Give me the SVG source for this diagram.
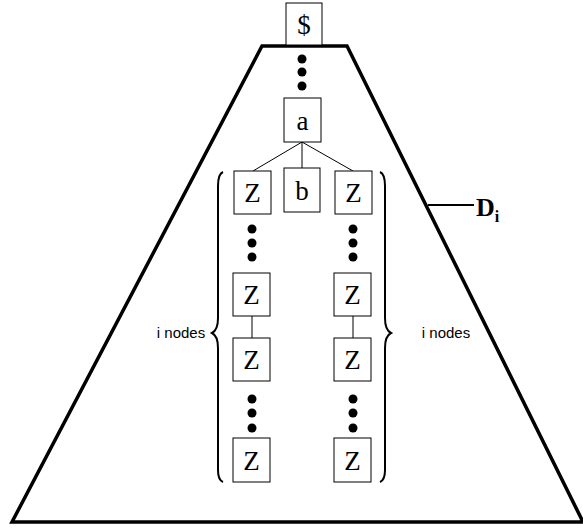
<svg xmlns="http://www.w3.org/2000/svg" width="583" height="528" viewBox="0 0 583 528">
<style>
.box{fill:#fff;stroke:#000;stroke-width:1}
.t{font-family:"Liberation Serif",serif;font-size:27px;text-anchor:middle;fill:#000}
.lbl{font-family:"Liberation Sans",sans-serif;font-size:15px;fill:#000}
.ln{stroke:#000;stroke-width:1;fill:none}
.br{stroke:#000;stroke-width:2;fill:none}
</style>
<rect width="583" height="528" fill="#fff"/>
<g id="trapezoid">
<polygon points="262,46 347,46 583,522 12,522" fill="none" stroke="#000" stroke-width="3.5" stroke-linejoin="miter"/>
</g>
<g id="connectors">
<line class="ln" x1="302" y1="142" x2="253" y2="171"/>
<line class="ln" x1="302" y1="142" x2="302" y2="168"/>
<line class="ln" x1="302" y1="142" x2="353" y2="171"/>
<line class="ln" x1="252" y1="316" x2="252" y2="338"/>
<line class="ln" x1="353" y1="316" x2="353" y2="338"/>
<line x1="428" y1="205" x2="474" y2="205" stroke="#000" stroke-width="2"/>
</g>
<g id="dots" fill="#000">
<circle cx="302" cy="59" r="4.5"/><circle cx="302" cy="72" r="4.5"/><circle cx="302" cy="86" r="4.5"/>
<circle cx="252" cy="229" r="4.5"/><circle cx="252" cy="243" r="4.5"/><circle cx="252" cy="257" r="4.5"/>
<circle cx="353" cy="229" r="4.5"/><circle cx="353" cy="243" r="4.5"/><circle cx="353" cy="257" r="4.5"/>
<circle cx="252" cy="399" r="4.5"/><circle cx="252" cy="413" r="4.5"/><circle cx="252" cy="428" r="4.5"/>
<circle cx="353" cy="399" r="4.5"/><circle cx="353" cy="413" r="4.5"/><circle cx="353" cy="428" r="4.5"/>
</g>
<g id="node-dollar"><rect class="box" x="286" y="3" width="36" height="42"/><text class="t" x="304" y="34">$</text></g>
<g id="node-a"><rect class="box" x="284" y="98" width="37" height="44"/><text class="t" x="302.5" y="130">a</text></g>
<g id="node-b"><rect class="box" x="284" y="168" width="36" height="44"/><text class="t" x="302" y="200">b</text></g>
<g id="node-z1"><rect class="box" x="234" y="171" width="37" height="43"/><text class="t" x="252.5" y="202">Z</text></g>
<g id="node-z2"><rect class="box" x="335" y="171" width="37" height="43"/><text class="t" x="353.5" y="202">Z</text></g>
<g id="node-z3"><rect class="box" x="233" y="273" width="37" height="43"/><text class="t" x="251.5" y="304">Z</text></g>
<g id="node-z4"><rect class="box" x="334" y="273" width="37" height="43"/><text class="t" x="352.5" y="304">Z</text></g>
<g id="node-z5"><rect class="box" x="233" y="338" width="37" height="43"/><text class="t" x="251.5" y="369">Z</text></g>
<g id="node-z6"><rect class="box" x="334" y="338" width="37" height="43"/><text class="t" x="352.5" y="369">Z</text></g>
<g id="node-z7"><rect class="box" x="233" y="438" width="37" height="44"/><text class="t" x="251.5" y="470">Z</text></g>
<g id="node-z8"><rect class="box" x="334" y="438" width="37" height="44"/><text class="t" x="352.5" y="470">Z</text></g>
<g id="brace-left">
<path class="br" d="M223,172 Q218,174 218,186 L218,318 Q218,330 212,333 Q218,336 218,348 L218,470 Q218,480 223,482"/>
</g>
<g id="brace-right">
<path class="br" d="M380,172 Q385,174 385,186 L385,318 Q385,330 391,333 Q385,336 385,348 L385,470 Q385,480 380,482"/>
</g>
<g id="labels">
<text class="lbl" x="181" y="338" text-anchor="middle">i nodes</text>
<text class="lbl" x="446" y="338" text-anchor="middle">i nodes</text>
<text x="476" y="216" font-family="Liberation Serif,serif" font-weight="bold" font-size="26px">D<tspan font-size="16px" dy="6">i</tspan></text>
</g>
</svg>
